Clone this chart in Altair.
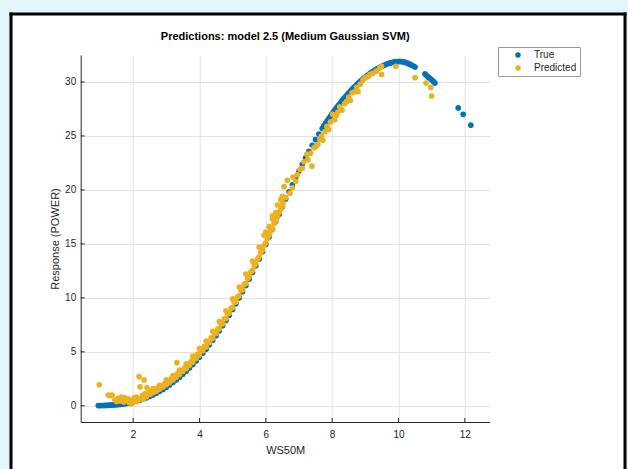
import altair as alt
import pandas as pd

# ---------------- data ----------------
true_x = [0.95, 1.0, 1.05, 1.1, 1.15, 1.2, 1.25, 1.3, 1.35, 1.4, 1.45, 1.5, 1.55, 1.6, 1.65,
          1.7, 1.75, 1.8, 1.85, 1.9, 1.95, 2.0,
          2.1, 2.2, 2.3, 2.4, 2.5, 2.6, 2.7, 2.8, 2.9, 3.0, 3.1, 3.2, 3.3, 3.4, 3.5, 3.6, 3.7,
          3.8, 3.9, 4.0, 4.1, 4.2, 4.3, 4.4, 4.5, 4.6, 4.7, 4.8, 4.9, 5.0, 5.1, 5.2, 5.3, 5.4,
          5.5, 5.6, 5.7, 5.8, 5.9, 6.0, 6.1, 6.2, 6.3, 6.4, 6.5, 6.6, 6.7, 6.8, 6.9, 7.0, 7.1,
          7.2, 7.3, 7.4, 7.5, 7.6, 7.7, 7.8, 7.9, 8.0, 8.1, 8.2, 8.3, 8.4, 8.5, 8.6, 8.7, 8.8,
          8.9, 9.0, 9.1, 9.2, 9.3, 9.4, 9.5, 9.6, 9.7, 9.8, 9.9, 10.0, 10.1, 10.2, 10.3, 10.4, 10.5,
          7.75, 7.85, 7.95, 8.05, 8.15, 8.25, 8.35, 8.45, 8.55, 8.65, 8.75, 8.85, 8.95, 9.05,
          9.15, 9.25, 9.35, 9.45, 9.55, 9.65, 9.75, 9.85, 9.95, 10.05, 10.15, 10.25, 10.35, 10.45,
          10.8, 10.85, 10.9, 10.95, 11.0, 11.05, 11.1, 11.8, 11.95, 12.18]
true_y = [0.02, 0.02, 0.03, 0.03, 0.04, 0.04, 0.05, 0.06, 0.07, 0.08, 0.09, 0.1, 0.12, 0.13, 0.15,
          0.17, 0.2, 0.22, 0.25, 0.28, 0.31, 0.35,
          0.43, 0.52, 0.62, 0.74, 0.87, 1.01, 1.17, 1.34, 1.52, 1.72, 1.93, 2.16, 2.4, 2.65, 2.92, 3.2, 3.5,
          3.82, 4.15, 4.5, 4.87, 5.25, 5.65, 6.07, 6.5, 6.95, 7.42, 7.9, 8.4, 8.92, 9.45, 10.0, 10.57, 11.15,
          11.74, 12.35, 12.97, 13.6, 14.28, 14.95, 15.65, 16.35, 17.05, 17.75, 18.45, 19.15, 19.82, 20.48, 21.12, 21.75, 22.38,
          22.98, 23.57, 24.13, 24.66, 25.18, 25.68, 26.16, 26.62, 27.06, 27.48, 27.88, 28.27, 28.63, 28.98, 29.31, 29.62, 29.92,
          30.19, 30.45, 30.69, 30.91, 31.11, 31.29, 31.45, 31.59, 31.71, 31.8, 31.86, 31.89, 31.88, 31.82, 31.7, 31.55, 31.38,
          25.95, 26.4, 26.85, 27.28, 27.7, 28.08, 28.46, 28.8, 29.15, 29.48, 29.78, 30.06, 30.33, 30.58,
          30.82, 31.02, 31.21, 31.38, 31.53, 31.66, 31.77, 31.84, 31.89, 31.9, 31.86, 31.77, 31.63, 31.47,
          30.75, 30.6, 30.45, 30.35, 30.2, 30.05, 29.9, 27.6, 27.0, 26.0]

pred_x = [0.98, 1.25, 1.32, 1.37, 1.45, 1.5, 1.55, 1.6, 1.65, 1.7, 1.72, 1.75, 1.8, 1.85, 1.88,
          1.9, 1.95, 1.98, 2.0, 2.03, 2.05, 2.1, 2.12, 2.15, 2.18, 2.21, 2.25, 2.28, 2.3, 2.33,
          2.35, 2.4, 2.42, 2.45, 2.5, 2.55, 2.6, 2.65, 2.7, 2.75, 2.8, 2.85, 2.9, 2.95, 3.0,
          3.05, 3.1, 3.15, 3.2, 3.25, 3.3, 3.32, 3.35, 3.4, 3.45, 3.5, 3.55, 3.6, 3.65, 3.7,
          3.75, 3.8, 3.85, 3.9, 3.95, 4.0, 4.05, 4.1, 4.15, 4.2, 4.25, 4.3, 4.35, 4.4, 4.45,
          4.5, 4.55, 4.6, 4.65, 4.7, 4.75, 4.8, 4.85, 4.9, 4.95, 5.0, 5.05, 5.1, 5.15, 5.2,
          5.25, 5.3, 5.35, 5.4, 5.45, 5.5, 5.55, 5.6, 5.65, 5.7, 5.75, 5.8, 5.85, 5.9, 5.95,
          6.0, 6.05, 6.1, 6.15, 6.2, 6.25, 6.3, 6.35, 6.4, 6.45, 6.5, 5.95, 6.1, 6.2, 6.3,
          6.35, 6.45, 6.5, 6.52, 6.55, 6.6, 6.65, 6.73, 6.8, 6.82, 6.9, 6.95, 7.03, 7.1, 7.15,
          7.24, 7.27, 7.35, 7.39, 7.45, 7.5, 7.57, 7.63, 7.68, 7.72, 7.78, 7.84, 7.9, 7.95, 8.02,
          8.08, 8.12, 8.17, 8.23, 8.3, 8.38, 8.44, 8.5, 8.55, 8.6, 8.69, 8.74, 8.78, 8.85, 8.93,
          9.0, 9.08, 9.14, 9.23, 9.33, 9.43, 9.49, 9.49, 9.92, 10.5, 10.83, 10.97, 11.0,
          2.6, 2.8, 3.0, 3.2, 3.4, 3.6, 3.8, 4.0, 4.2, 4.4, 4.6, 4.8, 5.0, 5.2, 5.4, 5.6,
          5.8, 6.0, 6.2]
pred_y = [1.95, 1.0, 0.95, 1.0, 0.55, 0.4, 0.7, 0.45, 0.8, 0.6, 0.35, 0.75, 0.5, 0.65, 0.3,
          0.45, 0.2, 0.5, 0.35, 0.75, 0.55, 0.8, 0.4, 0.5, 2.7, 1.75, 0.7, 0.95, 0.6, 2.4,
          1.1, 0.85, 1.7, 1.2, 1.05, 1.35, 1.2, 1.5, 1.35, 1.7, 1.55, 1.85, 1.75, 2.05, 1.95,
          2.3, 2.15, 2.5, 2.4, 2.75, 2.65, 4.0, 3.0, 2.9, 3.25, 3.2, 3.5, 3.45, 3.85, 3.75,
          4.1, 4.05, 4.45, 4.4, 4.8, 4.7, 5.15, 5.1, 5.5, 5.45, 5.9, 5.85, 6.3, 6.25, 6.7,
          6.7, 7.1, 7.15, 7.6, 7.6, 8.05, 8.1, 8.55, 8.6, 9.05, 9.1, 9.6, 9.65, 10.1, 10.2,
          10.7, 10.75, 11.25, 11.35, 11.8, 11.95, 12.4, 12.55, 13.0, 13.15, 13.6, 13.8, 14.2, 14.45, 14.9,
          15.1, 15.5, 15.8, 16.2, 16.4, 16.9, 17.1, 17.5, 17.9, 18.2, 18.5, 15.8, 16.6, 17.3, 17.9,
          18.6, 19.1, 19.4, 18.8, 20.3, 19.3, 20.9, 19.7, 20.2, 21.2, 20.8, 21.4, 21.9, 22.0, 22.6,
          23.3, 22.8, 23.4, 22.2, 23.9, 24.0, 24.2, 24.7, 25.0, 24.6, 25.4, 25.9, 25.6, 26.3, 27.0,
          26.5, 26.9, 27.2, 27.7, 27.4, 28.0, 28.2, 28.6, 28.3, 29.0, 29.1, 29.5, 29.1, 29.8, 30.2,
          30.4, 30.5, 30.7, 30.8, 31.0, 31.3, 31.45, 30.7, 31.45, 30.4, 29.9, 29.5, 28.7,
          1.6, 1.9, 2.4, 2.8, 3.3, 3.9, 4.6, 5.3, 6.0, 6.9, 7.8, 8.8, 9.9, 11.0, 12.2, 13.4,
          14.7, 16.1, 17.6]

x_ticks = [2, 4, 6, 8, 10, 12]
y_ticks = [0, 5, 10, 15, 20, 25, 30]
series_names = ["True", "Predicted"]
series_colors = ["#0072BD", "#EDB120"]
title_text = "Predictions: model 2.5 (Medium Gaussian SVM)"

# ---------------- layout ----------------
W, H = 409, 367
PAD_L, PAD_T = 80.7, 55
FONT = "Liberation Sans"
AX = "#262626"
GRID = "#e3e3e3"
CYAN = "#e2f5fb"

pts = pd.DataFrame({
    "x": true_x + pred_x,
    "y": true_y + pred_y,
    "series": ["True"] * len(true_x) + ["Predicted"] * len(pred_x),
    "ord": [0] * len(true_x) + [1] * len(pred_x),
})

xs = alt.Scale(domain=[0.42, 12.75], nice=False, zero=False)
ys = alt.Scale(domain=[-1.5, 32.5], nice=False, zero=False)

x_axis = alt.Axis(values=x_ticks, title="WS50M", labelPadding=7, titlePadding=5)
y_axis = alt.Axis(values=y_ticks, title="Response (POWER)", labelPadding=5, titlePadding=4)

one = pd.DataFrame({"a": [0]})

points = alt.Chart(pts).mark_circle(size=32, opacity=1).encode(
    x=alt.X("x:Q", scale=xs, axis=x_axis),
    y=alt.Y("y:Q", scale=ys, axis=y_axis),
    color=alt.Color("series:N", scale=alt.Scale(domain=series_names, range=series_colors),
                    legend=alt.Legend(title=None, orient="none", legendX=417.3, legendY=-8,
                                      fillColor="white", strokeColor="#9a9a9a", padding=3,
                                      symbolOffset=12, symbolType="circle", symbolSize=30,
                                      symbolStrokeWidth=0, labelFont=FONT, labelFontSize=10,
                                      labelColor=AX, rowPadding=3, labelOffset=11)),
    order=alt.Order("ord:Q"),
)

xtick = alt.Chart(pd.DataFrame({"x": x_ticks})).mark_rule(color=AX, strokeWidth=1).encode(
    x=alt.X("x:Q", scale=xs, axis=x_axis), y=alt.value(H), y2=alt.value(H - 4)
)
ytick = alt.Chart(pd.DataFrame({"y": y_ticks})).mark_rule(color=AX, strokeWidth=1).encode(
    y=alt.Y("y:Q", scale=ys, axis=y_axis), x=alt.value(0), x2=alt.value(4)
)


def px_rect(x0, x1, y0, y1, color):
    return alt.Chart(one).mark_rect(fill=color).encode(
        x=alt.value(x0 - PAD_L), x2=alt.value(x1 - PAD_L),
        y=alt.value(y0 - PAD_T), y2=alt.value(y1 - PAD_T))


def px_line(x0, x1, y0, y1):
    return alt.Chart(one).mark_rule(color="black", strokeWidth=3).encode(
        x=alt.value(x0 - PAD_L), x2=alt.value(x1 - PAD_L),
        y=alt.value(y0 - PAD_T), y2=alt.value(y1 - PAD_T))


# cyan surroundings and the black frame
bg_left = px_rect(0, 11, 0, 469, CYAN)
bg_top = px_rect(0, 628, 0, 14, CYAN)
bg_right = px_rect(625, 628, 0, 469, CYAN)
f_left = px_line(11, 11, 12.5, 469)
f_top = px_line(9.5, 626.5, 14, 14)
f_right = px_line(625, 625, 12.5, 469)

title = alt.Chart(pd.DataFrame({"t": [title_text]})).mark_text(
    font=FONT, fontSize=11, fontWeight="bold", color="black", align="center", baseline="middle"
).encode(text="t:N", x=alt.value(W / 2), y=alt.value(37 - PAD_T))

chart = alt.layer(points, xtick, ytick, bg_left, bg_top, bg_right, f_left, f_top, f_right, title).properties(
    width=W, height=H,
    autosize="none",
    padding={"left": PAD_L, "top": PAD_T, "right": 628 - PAD_L - W, "bottom": 469 - PAD_T - H},
).configure(background="white").configure_view(stroke=None).configure_axis(
    grid=True, gridColor=GRID, ticks=False, domainColor=AX, domainWidth=1,
    labelColor=AX, labelFont=FONT, labelFontSize=10,
    titleFont=FONT, titleFontSize=11, titleFontWeight="normal", titleColor=AX,
)

chart.save("out.html", embed_options={"renderer": "svg", "actions": False})
